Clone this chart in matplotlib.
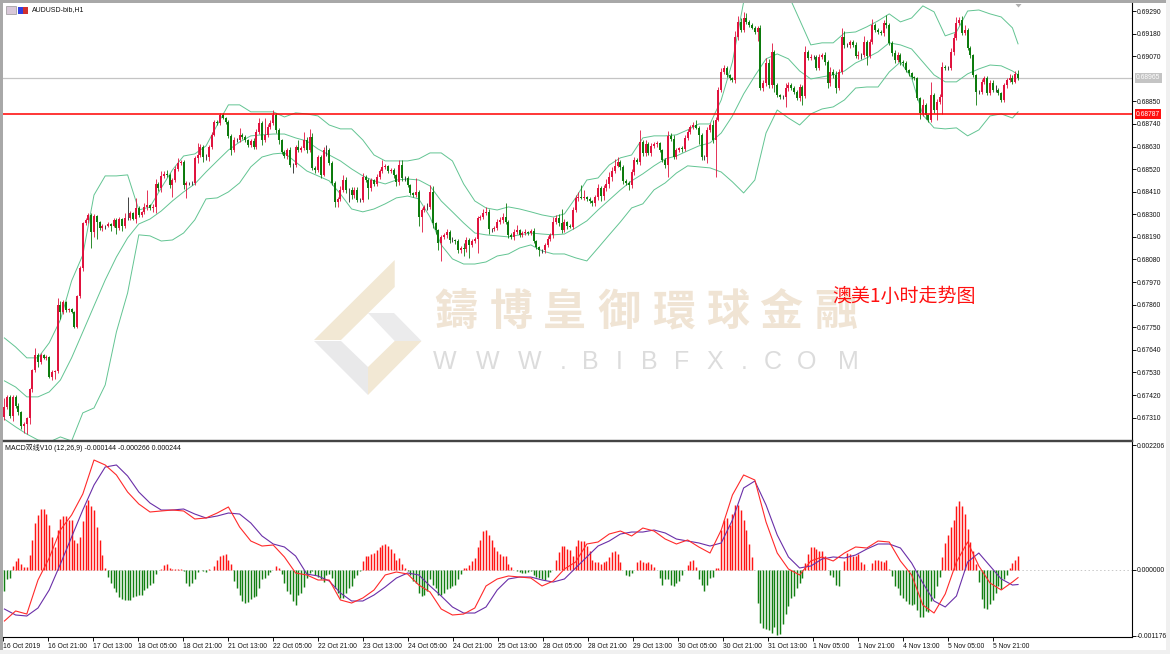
import numpy as np
import matplotlib
matplotlib.use('Agg')
import matplotlib.pyplot as plt
from matplotlib.patches import Polygon, Rectangle

plt.rcParams['font.family'] = ['Liberation Sans', 'Noto Sans CJK SC', 'DejaVu Sans']

W, H = 1170, 654

# closes in 1e-5 price units
closes = [
    67362,67411,67318,67411,67367,67338,67269,67279,67308,67450,
    67542,67615,67581,67615,67601,67605,67508,67532,67537,67859,
    67825,67873,67834,67839,67825,67752,67902,68039,68258,68273,
    68297,68214,68292,68263,68234,68243,68243,68253,68243,68273,
    68234,68277,68243,68282,68282,68307,68277,68331,68297,68312,
    68336,68346,68331,68336,68448,68428,68487,68497,68492,68443,
    68467,68521,68550,68555,68443,68453,68453,68453,68575,68589,
    68628,68579,68579,68628,68687,68750,68745,68784,68769,68750,
    68682,68613,68662,68662,68687,68677,68662,68638,68657,68628,
    68701,68745,68662,68687,68726,68745,68784,68711,68662,68604,
    68584,68613,68540,68540,68628,68613,68623,68662,68613,68677,
    68526,68516,68579,68492,68613,68613,68550,68453,68360,68375,
    68419,68467,68419,68419,68394,68419,68370,68370,68482,68467,
    68428,68467,68448,68482,68511,68531,68536,68511,68516,68492,
    68458,68540,68477,68477,68443,68404,68394,68409,68287,68321,
    68336,68336,68409,68258,68224,68161,68190,68200,68214,68175,
    68175,68170,68126,68136,68131,68175,68151,68170,68180,68282,
    68287,68307,68312,68229,68229,68234,68263,68273,68287,68263,
    68200,68190,68214,68224,68200,68209,68214,68209,68219,68170,
    68141,68126,68126,68151,68180,68200,68263,68282,68258,68224,
    68263,68243,68239,68321,68380,68385,68380,68385,68375,68365,
    68355,68385,68428,68389,68428,68448,68482,68511,68536,68555,
    68531,68463,68453,68443,68506,68565,68555,68652,68599,68643,
    68599,68633,68643,68648,68613,68565,68540,68682,68667,68579,
    68613,68623,68618,68672,68701,68726,68735,68721,68687,68579,
    68579,68711,68735,68662,68760,68906,68993,69013,68979,68964,
    68954,69164,69237,69198,69256,69237,69222,69208,69188,69208,
    68915,68940,69037,68930,69091,68930,68881,68872,68872,68915,
    68930,68915,68896,68867,68920,68876,69091,69062,69066,69066,
    69013,69066,69076,69042,68940,68993,68979,68915,68993,69164,
    69125,69125,69139,69125,69071,69076,69076,69139,69071,69139,
    69222,69198,69188,69183,69232,69222,69135,69086,69052,69076,
    69042,69037,69003,68988,68969,68964,68867,68794,68833,68784,
    68760,68881,68808,68847,68872,69018,69013,69013,69091,69159,
    69232,69247,69183,69198,69110,69076,68979,68896,68896,68945,
    68964,68891,68940,68906,68906,68891,68857,68930,68954,68964,
    68945,68984,68964,
]
first_open = 67313

wick_up = [
    45,10,10,10,8,12,5,10,5,5, 5,35,8,12,5,8,5,10,5,35,
    17,12,5,5,5,5,5,8,5,10, 10,8,10,5,5,8,5,8,5,8,
    8,10,5,25,100,8,5,50,8,5, 20,70,5,15,25,10,25,15,20,10,
    8,15,25,10,8,10,5,8,8,60, 15,10,15,10,15,10,8,10,8,5,
    10,8,15,10,35,8,10,5,8,15, 15,25,8,80,15,15,25,10,8,5,
    8,8,15,10,10,35,10,40,15,40, 20,8,8,12,15,25,8,8,10,8,
    20,25,15,10,12,15,12,8,20,8, 8,10,5,15,10,35,8,5,8,8,
    5,25,25,8,8,5,5,70,8,8, 8,20,35,30,5,5,8,10,15,8,
    15,5,10,8,25,15,10,10,8,10, 12,20,25,15,5,8,15,15,20,70,
    10,8,15,25,5,8,15,5,8,15, 5,5,5,8,12,10,25,15,20,70,
    15,5,8,15,15,25,60,35,5,8, 5,10,20,10,15,25,25,20,35,25,
    10,8,8,8,15,15,10,60,10,20, 10,15,10,10,5,5,8,25,15,20,
    10,5,10,15,15,10,15,25,10,8, 10,15,10,25,15,15,20,15,10,5,
    5,30,30,20,30,25,10,8,8,8, 15,15,25,20,45,10,8,5,8,25,
    12,10,8,10,15,10,30,10,15,8, 8,15,10,15,10,25,15,20,15,45,
    30,8,10,8,15,20,8,30,10,15, 30,8,8,10,15,40,8,10,15,15,
    8,8,10,5,5,5,5,5,30,10, 5,65,10,15,12,25,8,8,20,25,
    30,15,20,25,10,10,5,5,8,15, 10,8,15,15,25,10,5,10,8,20,
    15,15,20,
]
wick_dn = [
    15,10,10,25,10,15,15,35,50,30, 15,8,25,10,5,12,5,15,35,10,
    35,12,8,10,8,5,5,10,15,8, 15,80,25,85,8,15,15,5,25,5,
    30,8,25,12,8,10,5,20,10,8, 10,15,10,20,30,15,20,8,10,15,
    60,10,10,10,20,65,10,12,10,25, 12,25,15,20,10,8,10,12,5,10,
    10,25,10,8,8,12,10,10,8,10, 8,10,25,8,10,10,8,15,20,10,
    12,15,8,40,10,12,10,10,15,10, 10,15,12,15,5,30,10,8,25,25,
    12,10,15,60,20,15,10,12,10,10, 55,15,10,8,12,10,8,8,10,15,
    20,15,15,15,10,8,12,12,45,75, 10,15,12,25,20,35,90,12,15,15,
    10,15,12,15,35,15,65,12,10,70, 10,10,12,25,15,12,12,8,15,8,
    15,10,15,10,12,10,8,8,10,10, 10,30,15,15,12,10,15,10,15,15,
    10,15,5,10,12,15,5,10,10,10, 15,15,15,25,20,15,20,20,10,8,
    15,15,10,25,15,15,10,15,15,15, 10,15,10,15,10,10,15,60,10,12,
    10,8,15,10,8,8,10,8,45,15, 15,30,10,15,180,8,10,10,8,8,
    10,15,15,10,12,10,8,8,10,45, 12,15,15,15,15,35,10,10,10,50,
    15,10,12,10,15,45,10,10,10,12, 10,12,10,15,25,15,15,25,10,12,
    15,10,15,10,10,15,20,12,45,12, 10,10,10,12,15,15,10,15,15,10,
    15,15,10,15,8,12,10,30,15,20, 10,10,15,50,10,85,10,8,10,15,
    10,10,10,10,10,15,8,65,12,12, 10,10,10,12,10,8,10,8,15,10,
    10,8,8,
]

# bollinger bands read every 4th bar, last point is the final bar
band_bars = list(range(0, 361, 4)) + [362]
bb_upper = [
    67698,67654,67601,67601,67674,67786,67976,68102,68394,68487,
    68487,68492,68321,68336,68428,68516,68584,68594,68633,68735,
    68833,68833,68799,68799,68799,68774,68794,68789,68779,68735,
    68716,68716,68662,68589,68560,68560,68560,68570,68599,68599,
    68560,68448,68365,68331,68321,68336,68326,68312,68297,68287,
    68302,68380,68467,68477,68540,68575,68589,68672,68682,68682,
    68687,68711,68740,68740,68857,69042,69334,69417,69466,69441,
    69368,69247,69125,69135,69135,69183,69188,69213,69242,69276,
    69237,69256,69315,69286,69169,69188,69290,69295,69276,69261,
    69208,69130,
]
bb_mid = [
    67489,67459,67411,67411,67435,67493,67601,67727,67854,67980,
    68092,68185,68253,68277,68316,68365,68409,68448,68506,68560,
    68613,68652,68682,68687,68691,68691,68672,68657,68618,68589,
    68560,68521,68487,68463,68448,68467,68472,68467,68438,68365,
    68312,68258,68209,68200,68195,68190,68200,68209,68204,68200,
    68204,68234,68268,68321,68370,68419,68463,68497,68536,68570,
    68584,68609,68633,68648,68696,68779,68886,68974,69057,69081,
    69057,68998,68959,68969,68979,68998,69037,69062,69091,69135,
    69125,69105,69042,68979,68945,68945,68984,69008,69027,69023,
    68998,68979,
]
bb_lower = [
    67303,67265,67230,67201,67191,67216,67196,67333,67357,67469,
    67727,67917,68200,68195,68170,68175,68209,68273,68375,68380,
    68409,68453,68531,68579,68594,68599,68555,68511,68487,68463,
    68399,68326,68312,68326,68351,68380,68389,68375,68287,68151,
    68083,68058,68058,68068,68097,68107,68136,68151,68122,68107,
    68107,68088,68073,68136,68200,68263,68331,68351,68419,68453,
    68501,68536,68531,68526,68506,68458,68404,68467,68696,68808,
    68769,68735,68789,68813,68823,68857,68915,68920,68920,68993,
    69042,68964,68784,68721,68716,68721,68682,68711,68779,68789,
    68769,68799,
]

# macd histogram in 1e-6
macd_hist = [
    -384,-177,-148,59,148,195,106,47,47,254,
    531,826,962,1074,1080,991,785,578,401,708,
    897,956,944,885,885,531,472,578,856,1151,
    1227,1121,1050,755,531,254,30,-130,-236,-325,
    -401,-484,-519,-543,-549,-543,-490,-472,-460,-443,
    -366,-325,-266,-236,-83,-12,3,83,106,35,
    12,12,12,12,-18,-236,-295,-236,-177,-47,
    -12,-24,-47,6,0,59,165,248,260,266,
    177,89,-195,-325,-460,-561,-590,-572,-531,-484,
    -472,-325,-177,-159,-106,-47,0,59,30,-83,
    -248,-384,-431,-561,-637,-443,-425,-307,-148,-59,
    -30,-89,-130,-177,-224,-106,-83,-148,-325,-425,
    -502,-502,-413,-325,-295,-148,-89,-18,148,236,
    248,266,295,342,401,437,448,413,366,295,
    165,207,89,30,-18,-89,-207,-248,-425,-472,
    -443,-384,-165,-266,-325,-460,-443,-413,-354,-325,
    -295,-266,-165,-71,24,35,77,153,207,401,
    531,679,708,620,531,401,325,266,248,236,
    106,47,-12,-35,-47,-59,-59,-47,-18,-89,
    -130,-148,-177,-189,-130,-47,0,165,307,425,
    425,366,342,236,413,531,502,502,413,325,
    165,130,130,89,130,148,224,307,325,266,
    130,0,-89,-118,-59,-12,130,165,130,118,
    130,89,47,-12,-148,-266,-165,-177,-266,-295,
    -236,-207,-106,0,71,148,165,47,-165,-266,
    -384,-266,-148,-130,30,30,696,885,915,797,
    991,1151,1151,1062,885,696,460,224,0,-590,
    -956,-1033,-1062,-1074,-1121,-1015,-1168,-1151,-974,-797,
    -649,-502,-472,-325,-248,-148,118,266,401,401,
    366,325,325,236,0,-89,-130,-283,-295,0,
    148,295,283,236,236,266,130,89,-6,0,
    118,165,165,148,130,165,12,-118,-295,-325,
    -443,-502,-561,-608,-637,-620,-720,-844,-838,-738,
    -755,-561,-502,-295,-130,224,472,608,755,885,
    1121,1221,1121,991,726,490,325,106,-224,-519,
    -679,-708,-620,-543,-425,-295,-354,-177,-89,30,
    118,165,244,
]
macd_line = [
    -913,-735,-789,-186,204,700,966,1338,1940,1852,
    1675,1373,1161,1019,1037,1054,1037,895,913,1001,
    1108,753,505,416,434,222,-62,-97,-186,-186,
    -540,-594,-505,-363,-97,-44,-80,-275,-399,-700,
    -806,-789,-682,-292,-168,-115,-133,-151,-292,-204,
    9,133,452,487,629,682,594,735,682,540,
    452,523,399,292,700,1320,1675,1586,842,292,
    9,-97,151,222,151,292,399,381,505,487,
    151,-97,-629,-771,-434,133,487,62,-239,-363,
    -222,-144,
]
signal_line = [
    -700,-806,-824,-682,-363,97,576,1054,1497,1816,
    1852,1657,1373,1178,1054,1054,1072,983,913,948,
    1001,983,824,594,452,399,239,-80,-115,-204,
    -416,-558,-558,-452,-310,-151,-62,-97,-292,-470,
    -664,-771,-771,-664,-363,-168,-133,-133,-186,-222,
    -168,27,222,416,505,629,664,664,700,647,
    540,505,470,416,470,877,1444,1568,1143,611,
    222,27,62,186,222,204,257,363,452,452,
    381,115,-239,-558,-664,-470,133,292,62,-168,
    -275,-266,
]

date_labels = [
    '16 Oct 2019','16 Oct 21:00','17 Oct 13:00','18 Oct 05:00','18 Oct 21:00',
    '21 Oct 13:00','22 Oct 05:00','22 Oct 21:00','23 Oct 13:00','24 Oct 05:00',
    '24 Oct 21:00','25 Oct 13:00','28 Oct 05:00','28 Oct 21:00','29 Oct 13:00',
    '30 Oct 05:00','30 Oct 21:00','31 Oct 13:00','1 Nov 05:00','1 Nov 21:00',
    '4 Nov 13:00','5 Nov 05:00','5 Nov 21:00',
]
price_ticks = [0.69290,0.69180,0.69070,0.68850,0.68740,0.68630,0.68520,0.68410,0.68300,
               0.68190,0.68080,0.67970,0.67860,0.67750,0.67640,0.67530,0.67420,0.67310]
last_price = 0.68965
level_price = 0.68787

C_UP = '#e0103c'
C_DN = '#0a7a0a'
C_BAND = '#62c492'
tick_fs = 4.9


def pix_box(x0, y0, x1, y1):
    return [x0 / W, 1 - y1 / H, (x1 - x0) / W, (y1 - y0) / H]


def fx(x):
    return x / W


def fy(y):
    return 1 - y / H


fig = plt.figure(figsize=(W / 100, H / 100), dpi=100, facecolor='white')

# window chrome
fig.add_artist(Rectangle((0, 0), fx(3), 1, transform=fig.transFigure, fc='#a8a8a8', ec='none', zorder=-3))
fig.add_artist(Rectangle((0, fy(3)), 1, fy(0) - fy(3), transform=fig.transFigure, fc='#a8a8a8', ec='none', zorder=-3))
fig.add_artist(Rectangle((fx(1166), 0), fx(4), 1, transform=fig.transFigure, fc='#f0f0f0', ec='none', zorder=-3))
fig.add_artist(Rectangle((0, 0), 1, fy(650), transform=fig.transFigure, fc='#f0f0f0', ec='none', zorder=-3))

# watermark logo
for pts, col in [
    ([(394.7,260),(394.7,287),(341,340),(314,340)], '#f2e8d4'),
    ([(368,313),(394,313),(421.5,341),(394.7,341)], '#ebebec'),
    ([(394.7,341),(421.5,341),(368,395),(368,367)], '#f2e8d4'),
    ([(314,341),(341,341),(368,367),(368,395)], '#e9e9ea'),
]:
    fig.add_artist(Polygon([(fx(a), fy(b)) for a, b in pts], closed=True,
                           transform=fig.transFigure, fc=col, ec='none', zorder=-2))
wm_x = [456, 511, 564, 619, 674, 728, 781, 836]
for xx, ch in zip(wm_x, '鑄博皇御環球金融'):
    fig.text(fx(xx), fy(312), ch, ha='center', va='center', fontsize=31, fontweight='bold',
             color='#f0e4d4', family=['Noto Sans CJK TC', 'DejaVu Sans'], zorder=-2)
wm2_x = [445, 488, 530, 563, 590, 619, 649, 682, 715, 744, 773, 807, 848]
for xx, ch in zip(wm2_x, 'WWW.BIBFX.COM'):
    fig.text(fx(xx), fy(362), ch, ha='center', va='center', fontsize=18,
             color='#dcdcdc', family='Liberation Sans', zorder=-2)

ax = fig.add_axes(pix_box(3, 3, 1132, 440), facecolor='none')
ax2 = fig.add_axes(pix_box(3, 441, 1132, 637), facecolor='none')

n = len(closes)
bars = np.arange(n)
cl = np.array(closes) * 1e-5
op = np.concatenate([[first_open * 1e-5], cl[:-1]])
hi = np.maximum(op, cl) + np.array(wick_up) * 1e-5
lo = np.minimum(op, cl) - np.array(wick_dn) * 1e-5

ax.axhline(last_price, color='#c4c4c4', lw=0.9, zorder=1)
ax.axhline(level_price, color='#ff0000', lw=1.1, zorder=5)

for vals in (bb_upper, bb_mid, bb_lower):
    ax.plot(band_bars, np.array(vals) * 1e-5, color=C_BAND, lw=0.7, zorder=2)

colors = np.where(cl > op, C_UP, np.where(cl < op, C_DN, '#222222'))
ax.vlines(bars, lo, hi, colors=colors, lw=0.6, zorder=3)
ax.vlines(bars, np.minimum(op, cl), np.maximum(op, cl), colors=colors, lw=1.4, zorder=4)

ax.set_xlim(-0.5, 402.7)
ax.set_ylim(0.67201, 0.69329)
ax.set_xticks([])
ax.yaxis.tick_right()
ax.set_yticks(price_ticks)
ax.set_yticklabels(['%.5f' % p for p in price_ticks])
ax.tick_params(axis='y', length=3, width=0.7, pad=0.5, labelsize=tick_fs, colors='#111111')
for s in ('left', 'top'):
    ax.spines[s].set_visible(False)
ax.spines['right'].set_linewidth(0.8)
ax.spines['bottom'].set_linewidth(1.0)
ax.spines['bottom'].set_color('#444444')

# price tags on the right axis
tr = ax.get_yaxis_transform()
ax.text(1.0035, last_price, '%.5f' % last_price, transform=tr, ha='left', va='center', fontsize=tick_fs,
        color='white', bbox=dict(fc='#c4c4c4', ec='none', pad=1.0), zorder=10, clip_on=False)
ax.text(1.0035, level_price, '%.5f' % level_price, transform=tr, ha='left', va='center', fontsize=tick_fs,
        color='white', bbox=dict(fc='#ff1010', ec='none', pad=1.0), zorder=10, clip_on=False)

# legend row and icons
fig.add_artist(Rectangle((fx(6), fy(14)), fx(10), fy(6) - fy(14), transform=fig.transFigure,
                         fc='#d8c8d8', ec='#808080', lw=0.4))
fig.add_artist(Rectangle((fx(18), fy(14)), fx(5), fy(7) - fy(14), transform=fig.transFigure,
                         fc='#3040e0', ec='none'))
fig.add_artist(Rectangle((fx(23), fy(14)), fx(5), fy(7) - fy(14), transform=fig.transFigure,
                         fc='#d03030', ec='none'))
fig.text(fx(32), fy(10), 'AUDUSD-bib,H1', ha='left', va='center', fontsize=5.0, color='#111111')
fig.add_artist(Polygon([(fx(1015.5), fy(4)), (fx(1021.5), fy(4)), (fx(1018.5), fy(7.5))],
                       transform=fig.transFigure, fc='#b0b0b0', ec='none'))
fig.text(fx(832), fy(296), '澳美1小时走势图', ha='left', va='center', fontsize=13.7, color='#ff1010',
         family=['Noto Sans CJK SC', 'DejaVu Sans'])

# macd panel
h = np.array(macd_hist) * 1e-6
ax2.axhline(0, color='#c8c8c8', lw=0.7, ls=(0, (1.5, 2.5)), zorder=1)
ax2.vlines(bars, 0, h, colors=np.where(h >= 0, '#ff1414', '#127f12'), lw=1.05, zorder=2)
ax2.plot(band_bars, np.array(signal_line) * 1e-6, color='#6a2fa8', lw=0.8, zorder=3)
ax2.plot(band_bars, np.array(macd_line) * 1e-6, color='#ff2a2a', lw=0.8, zorder=4)
ax2.set_xlim(-0.5, 402.7)
ax2.set_ylim(-0.001196, 0.002277)

ax2.yaxis.tick_right()
ax2.set_yticks([0.002206, 0.0, -0.001176])
ax2.set_yticklabels(['0.002206', '0.000000', '-0.001176'])
ax2.tick_params(axis='y', length=3, width=0.7, pad=0.5, labelsize=tick_fs, colors='#111111')
ticks = [-0.5 + 16.07 * k for k in range(len(date_labels))]
ax2.set_xticks(ticks)
ax2.set_xticklabels(date_labels, ha='left')
ax2.tick_params(axis='x', length=3, width=0.7, pad=1.5, labelsize=tick_fs, colors='#111111')
ax2.spines['left'].set_visible(False)
ax2.spines['top'].set_linewidth(1.0)
ax2.spines['top'].set_color('#444444')
ax2.spines['right'].set_linewidth(0.8)
ax2.spines['bottom'].set_linewidth(0.8)
fig.text(fx(5), fy(447.5), 'MACD双线V10 (12,26,9) -0.000144 -0.000266 0.000244', ha='left', va='center',
         fontsize=5.0, color='#111111')

fig.savefig('out.png', dpi=100)
